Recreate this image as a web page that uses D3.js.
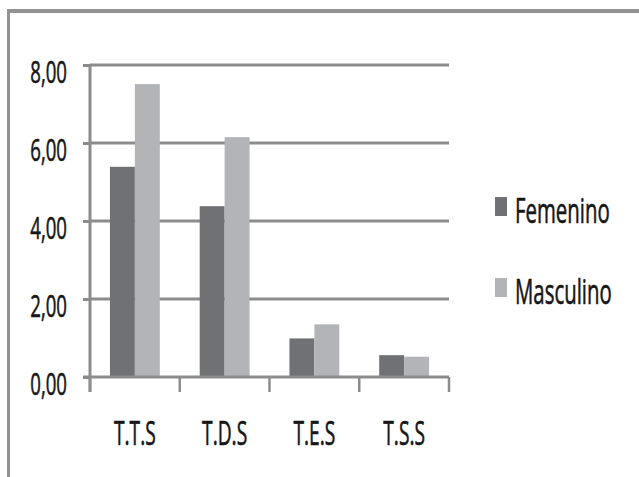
<!DOCTYPE html>
<html>
<head>
<meta charset="utf-8">
<script src="https://cdn.jsdelivr.net/npm/d3@7"></script>
<style>
  html, body { margin: 0; padding: 0; background: #ffffff; }
  svg { display: block; }
  text { font-family: "Open Sans", sans-serif; fill: #161616; stroke: #161616; stroke-width: 0.6px; }
</style>
</head>
<body>
<svg id="chart" width="639" height="477"></svg>
<script>
// Categories and series values
const categories = ["T.T.S", "T.D.S", "T.E.S", "T.S.S"];
const seriesNames = ["Femenino", "Masculino"];
const femenino = [5.39, 4.38, 0.99, 0.56];
const masculino = [7.51, 6.15, 1.35, 0.52];
const yTickValues = [0, 2, 4, 6, 8];

const colors = { Femenino: "#707175", Masculino: "#b3b4b8" };
const gridColor = "#8c8c8e";
const squeeze = 0.6; // narrow type

const rows = categories.map((c, i) => ({
  cat: c,
  values: [
    { key: "Femenino", value: femenino[i] },
    { key: "Masculino", value: masculino[i] }
  ]
}));

const svg = d3.select("#chart");
const W = 639, H = 477;

// outer frame (top and left edges)
svg.append("line").attr("x1", 7).attr("x2", W).attr("y1", 11).attr("y2", 11)
  .attr("stroke", "#929294").attr("stroke-width", 4);
svg.append("line").attr("x1", 8.5).attr("x2", 8.5).attr("y1", 9).attr("y2", H)
  .attr("stroke", "#929294").attr("stroke-width", 3);

const plot = { left: 90, right: 449, top: 65, bottom: 377 };

const x = d3.scaleBand().domain(categories).range([plot.left, plot.right])
  .paddingInner(0).paddingOuter(0);
const xSub = d3.scaleBand().domain(seriesNames).range([0, x.bandwidth()])
  .paddingInner(0).paddingOuter(0.8);
const y = d3.scaleLinear().domain([0, 8]).range([plot.bottom, plot.top]);

const locale = d3.formatLocale({ decimal: ",", thousands: ".", grouping: [3], currency: ["", " €"] });
const fmt = locale.format(".2f");

// horizontal gridlines
svg.append("g").selectAll("line").data(yTickValues.filter(v => v > 0)).join("line")
  .attr("x1", plot.left).attr("x2", plot.right)
  .attr("y1", d => y(d)).attr("y2", d => y(d))
  .attr("stroke", gridColor).attr("stroke-width", 3);

// bars
const groups = svg.append("g").selectAll("g").data(rows).join("g")
  .attr("transform", d => `translate(${x(d.cat)},0)`);
groups.selectAll("rect").data(d => d.values).join("rect")
  .attr("x", d => xSub(d.key))
  .attr("width", xSub.bandwidth())
  .attr("y", d => y(d.value))
  .attr("height", d => y(0) - y(d.value))
  .attr("fill", d => colors[d.key]);

// y axis
const yAxis = svg.append("g").attr("transform", `translate(${plot.left},0)`)
  .call(d3.axisLeft(y).tickValues(yTickValues).tickSize(7).tickFormat(fmt));
yAxis.select(".domain").attr("stroke", gridColor).attr("stroke-width", 3)
  .attr("d", `M0,${plot.top}V${plot.bottom + 15}`);
yAxis.selectAll(".tick line").attr("stroke", gridColor).attr("stroke-width", 3);
yAxis.selectAll(".tick text")
  .attr("x", 0).attr("dy", null).attr("y", 17)
  .attr("transform", `translate(-23,0) scale(${squeeze},1)`)
  .attr("text-anchor", "end")
  .style("font-size", "31px").attr("fill", "#161616");

// x axis
const xAxis = svg.append("g").attr("transform", `translate(0,${plot.bottom})`)
  .call(d3.axisBottom(x).tickSize(0).tickFormat(""));
xAxis.select(".domain").attr("stroke", gridColor).attr("stroke-width", 3)
  .attr("d", `M${plot.left - 7},0H${plot.right}`);
xAxis.selectAll(".tick line").remove();
// category boundary ticks
const bounds = categories.map(c => x(c)).concat([x(categories[categories.length - 1]) + x.bandwidth()]);
svg.append("g").selectAll("line").data(bounds).join("line")
  .attr("x1", d => d).attr("x2", d => d)
  .attr("y1", plot.bottom).attr("y2", plot.bottom + 15)
  .attr("stroke", gridColor).attr("stroke-width", 2.5);

// category labels
svg.append("g").selectAll("text").data(categories).join("text")
  .attr("transform", d => `translate(${x(d) + x.bandwidth() / 2},445) scale(${squeeze},1)`)
  .attr("text-anchor", "middle")
  .style("font-size", "32px")
  .text(d => d);

// legend
const legend = svg.append("g").selectAll("g").data(seriesNames).join("g")
  .attr("transform", (d, i) => `translate(495,${197 + i * 81})`);
legend.append("rect").attr("width", 12).attr("height", 19)
  .attr("fill", d => colors[d]);
legend.append("text")
  .attr("transform", `translate(20,26) scale(0.6,1)`)
  .style("font-size", "34px")
  .text(d => d);
</script>
</body>
</html>
